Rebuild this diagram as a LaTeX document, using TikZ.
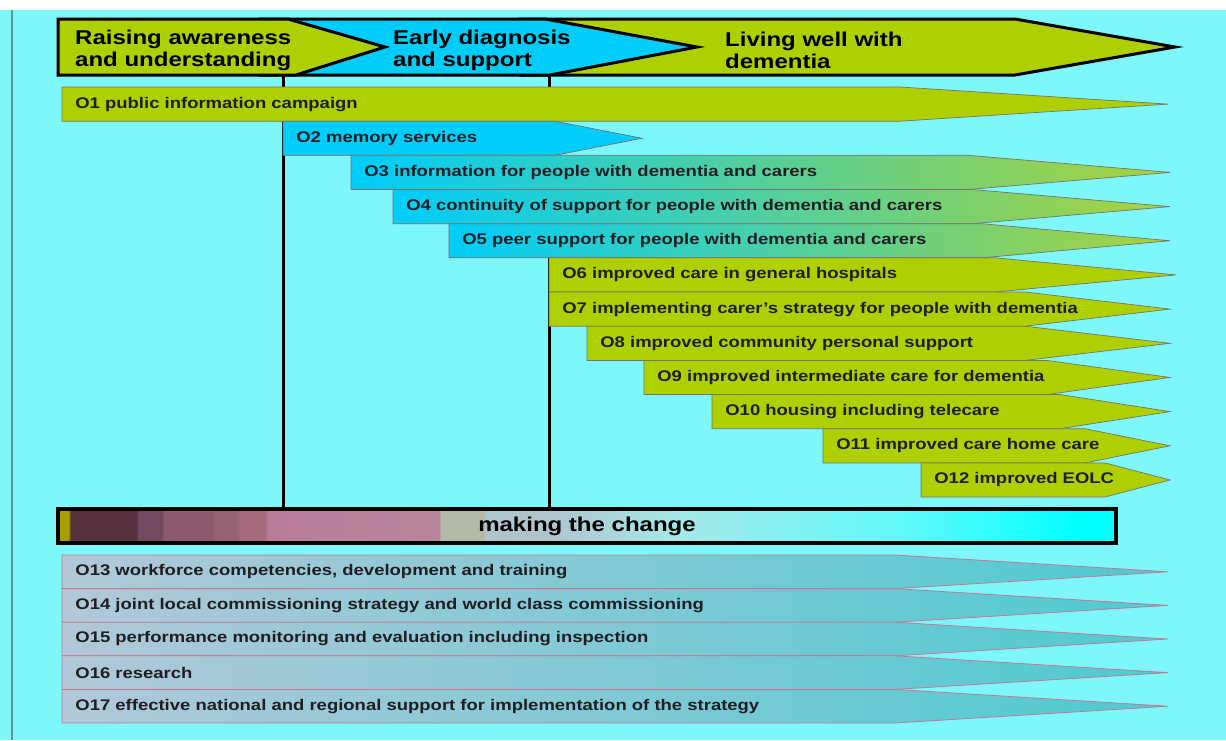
\documentclass[tikz,border=0pt]{standalone}
\usepackage{fontspec}
\setmainfont{Liberation Sans}[FakeStretch=1.2]
\usetikzlibrary{positioning}

\definecolor{bgcyan}{RGB}{126,247,250}
\definecolor{ygreen}{RGB}{174,208,0}
\definecolor{rowblue}{RGB}{0,205,250}
\definecolor{rowmid}{RGB}{105,192,215}
\definecolor{rowgreen}{RGB}{168,210,60}
\definecolor{slate}{RGB}{178,200,216}
\definecolor{rowteal}{RGB}{78,202,208}
\definecolor{rowpink}{RGB}{196,120,150}
\definecolor{textdark}{RGB}{30,30,35}
\definecolor{edgegrey}{RGB}{95,150,155}
\definecolor{chOlive}{RGB}{165,160,0}
\definecolor{chMa}{RGB}{85,50,62}
\definecolor{chMb}{RGB}{113,74,94}
\definecolor{chMc}{RGB}{140,90,110}
\definecolor{chMd}{RGB}{148,98,114}
\definecolor{chMe}{RGB}{164,106,126}
\definecolor{chPinka}{RGB}{184,124,150}
\definecolor{chPinkb}{RGB}{184,134,156}
\definecolor{chGrey}{RGB}{180,186,170}
\definecolor{chBluegrey}{RGB}{176,196,204}
\definecolor{chLight}{RGB}{165,232,232}
\definecolor{chMid}{RGB}{95,250,250}
\definecolor{chCyan}{RGB}{0,255,255}

\pgfdeclarehorizontalshading{changeshade}{100bp}{%
  color(0bp)=(chOlive); color(25.5bp)=(chOlive);
  color(25.6bp)=(chMa); color(28.7bp)=(chMa);
  color(28.8bp)=(chMb); color(29.9bp)=(chMb);
  color(30bp)=(chMc); color(32.3bp)=(chMc);
  color(32.4bp)=(chMd); color(33.5bp)=(chMd);
  color(33.6bp)=(chMe); color(34.8bp)=(chMe);
  color(34.9bp)=(chPinka); color(43bp)=(chPinkb);
  color(43.1bp)=(chGrey); color(45.1bp)=(chGrey);
  color(45.2bp)=(chBluegrey); color(48bp)=(chBluegrey);
  color(54.4bp)=(chLight); color(65bp)=(chMid);
  color(73.3bp)=(chCyan); color(100bp)=(chCyan)}

\begin{document}
\begin{tikzpicture}[x=1pt, y=-1pt,
  stage/.style={fill=#1, draw=black, line width=3pt},
  stagetext/.style={anchor=west, align=left, inner sep=0pt,
    font=\fontsize{20}{22}\selectfont\bfseries},
  outcome/.style={draw=black!55, line width=0.7pt},
  blend/.style={outcome, left color=rowblue, middle color=rowmid, right color=rowgreen},
  lower/.style={draw=rowpink, line width=0.8pt,
    left color=slate, middle color=slate, right color=rowteal},
  outtext/.style={anchor=west, inner xsep=13pt, inner ysep=0pt, text=textdark,
    font=\fontsize{15.4}{18}\selectfont\bfseries},
  changebar/.style={draw=black, line width=4pt, inner sep=0pt,
    minimum width=1058pt, minimum height=34pt, shade, shading=changeshade,
    font=\fontsize{20}{22}\selectfont\bfseries},
  divider/.style={line width=3pt}]
  \useasboundingbox (0,0) rectangle (1226,740);
  \fill[white] (0,0) rectangle (1226,10);
  \fill[bgcyan] (0,10) rectangle (1226,740);
  \draw[edgegrey, line width=2pt] (12,10) -- (12,740);

  % the change bar and the two dividers
  \node[changebar] (bar) at (587,526) {making the change};
  \coordinate (d1) at (283,75);
  \coordinate (d2) at (549,75);
  \draw[divider] (d1) -- (d1 |- bar.north);
  \draw[divider] (d2) -- (d2 |- bar.north);

  % outcomes 1-12
  \path[outcome, fill=ygreen] (62,87) -- (900,87) -- (1168,104.1) -- (900,121.2) -- (62,121.2) -- cycle
    (62,104.1) node[outtext] (o1) {O1 public information campaign};
  \path[outcome, fill=rowblue] (283,121.2) -- (555,121.2) -- (642,138.25) -- (555,155.3) -- (283,155.3) -- cycle
    (283,138.25) node[outtext] (o2) {O2 memory services};
  \path[blend] (351,155.3) -- (968,155.3) -- (1170,172.4) -- (968,189.5) -- (351,189.5) -- cycle
    (351,172.4) node[outtext] (o3) {O3 information for people with dementia and carers};
  \path[blend] (393,189.5) -- (972,189.5) -- (1170,206.6) -- (972,223.7) -- (393,223.7) -- cycle
    (393,206.6) node[outtext] (o4) {O4 continuity of support for people with dementia and carers};
  \path[blend] (449,223.7) -- (982,223.7) -- (1170,240.75) -- (982,257.8) -- (449,257.8) -- cycle
    (449,240.75) node[outtext] (o5) {O5 peer support for people with dementia and carers};
  \path[outcome, fill=ygreen] (549,257.8) -- (995,257.8) -- (1176,274.9) -- (995,292) -- (549,292) -- cycle
    (549,274.9) node[outtext] (o6) {O6 improved care in general hospitals};
  \path[outcome, fill=ygreen] (549,292) -- (1025,292) -- (1170,309.1) -- (1025,326.2) -- (549,326.2) -- cycle
    (549,309.1) node[outtext] (o7) {O7 implementing carer’s strategy for people with dementia};
  \path[outcome, fill=ygreen] (587,326.2) -- (1025,326.2) -- (1170,343.3) -- (1025,360.4) -- (587,360.4) -- cycle
    (587,343.3) node[outtext] (o8) {O8 improved community personal support};
  \path[outcome, fill=ygreen] (644,360.4) -- (1047,360.4) -- (1170,377.45) -- (1047,394.5) -- (644,394.5) -- cycle
    (644,377.45) node[outtext] (o9) {O9 improved intermediate care for dementia};
  \path[outcome, fill=ygreen] (712,394.5) -- (1060,394.5) -- (1170,411.6) -- (1060,428.7) -- (712,428.7) -- cycle
    (712,411.6) node[outtext] (o10) {O10 housing including telecare};
  \path[outcome, fill=ygreen] (823,428.7) -- (1085,428.7) -- (1170,445.8) -- (1085,462.9) -- (823,462.9) -- cycle
    (823,445.8) node[outtext] (o11) {O11 improved care home care};
  \path[outcome, fill=ygreen] (921,462.9) -- (1105,462.9) -- (1170,479.95) -- (1105,497) -- (921,497) -- cycle
    (921,479.95) node[outtext] (o12) {O12 improved EOLC};

  % outcomes 13-17
  \path[lower] (62,555) -- (895,555) -- (1168,571.8) -- (895,588.6) -- (62,588.6) -- cycle
    (62,571.8) node[outtext] (o13) {O13 workforce competencies, development and training};
  \path[lower] (62,588.6) -- (895,588.6) -- (1168,605.4) -- (895,622.2) -- (62,622.2) -- cycle
    (62,605.4) node[outtext] (o14) {O14 joint local commissioning strategy and world class commissioning};
  \path[lower] (62,622.2) -- (895,622.2) -- (1168,639) -- (895,655.8) -- (62,655.8) -- cycle
    (62,639) node[outtext] (o15) {O15 performance monitoring and evaluation including inspection};
  \path[lower] (62,655.8) -- (895,655.8) -- (1168,672.6) -- (895,689.4) -- (62,689.4) -- cycle
    (62,672.6) node[outtext] (o16) {O16 research};
  \path[lower] (62,689.4) -- (895,689.4) -- (1168,706.2) -- (895,723) -- (62,723) -- cycle
    (62,706.2) node[outtext] (o17) {O17 effective national and regional support for implementation of the strategy};

  % the three stages
  \path[stage=ygreen] (520,19) -- (1015,19) -- (1175,47) -- (1015,75) -- (520,75) -- cycle;
  \path[stage=rowblue] (260,19) -- (545,19) -- (697,47) -- (550,75) -- (260,75) -- cycle;
  \path[stage=ygreen] (58,19) -- (288,19) -- (385,47) -- (296,75) -- (58,75) -- cycle;
  \node[stagetext] (h1) at (75,50) {Raising awareness\\and understanding};
  \node[stagetext] (h2) at (393,50) {Early diagnosis\\and support};
  \node[stagetext] (h3) at (725,50) {Living well with\\dementia};
\end{tikzpicture}
\end{document}
